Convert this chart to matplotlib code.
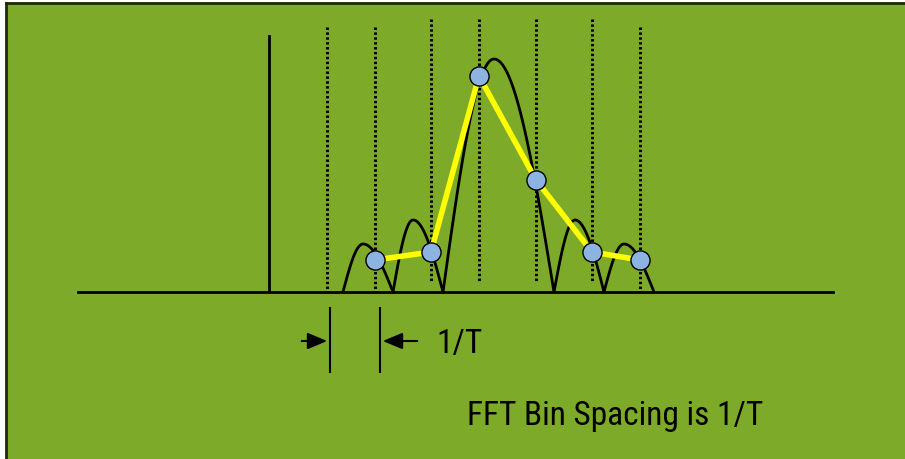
import numpy as np
import matplotlib.pyplot as plt
from matplotlib import font_manager

# frequency axis and the off-bin tone
baseline_x = [78, 833]
baseline_y = 292
tone_x = 269
tone_top = 36

# FFT bin centres and their magnitudes
bin_x = [375, 431, 479, 536, 592, 640]
bin_y = [260, 252, 76, 180, 252, 260]
grid_x = [327, 375, 431, 479, 536, 592, 640]
grid_top = [27, 27, 19, 19, 19, 19, 27]
grid_bottom = [292, 292, 283, 283, 283, 283, 292]

# sinc lobes: start, end, peak position, peak height
lobe_start = [343, 393, 443, 554, 604]
lobe_end = [393, 443, 554, 604, 654]
lobe_peak_x = [363, 413, 494, 575, 624]
lobe_peak_y = [244, 220, 59, 220, 244]

green = '#7dab29'

fig = plt.figure(figsize=(9.05, 4.59), dpi=100)
fig.patch.set_facecolor('white')
ax = fig.add_axes([0, 0, 1, 1])
ax.set_xlim(0, 905)
ax.set_ylim(459, 0)
ax.axis('off')

# panel background with dark edge on top and left
ax.add_patch(plt.Rectangle((6, 3), 905, 470, facecolor=green, edgecolor='none'))
ax.plot([6, 6], [3, 459], color='#1a2a0a', lw=2)
ax.plot([6, 905], [3, 3], color='#1a2a0a', lw=2)

# baseline and tone line
ax.plot(baseline_x, [baseline_y, baseline_y], color='black', lw=2)
ax.plot([tone_x, tone_x], [tone_top, baseline_y], color='black', lw=2)

# dotted bin markers
for gx, gt, gb in zip(grid_x, grid_top, grid_bottom):
    ax.plot([gx, gx], [gt, gb], color='black', lw=2.2, linestyle=(0, (0.8, 0.8)))

# lobes drawn as skewed sine arches through each peak
for s, e, px, py in zip(lobe_start, lobe_end, lobe_peak_x, lobe_peak_y):
    xs = np.linspace(s, e, 120)
    t = np.where(xs <= px, (xs - s) / (px - s) * 0.5, 0.5 + (xs - px) / (e - px) * 0.5)
    ys = baseline_y - (baseline_y - py) * np.sin(np.pi * t)
    ax.plot(xs, ys, color='black', lw=2, solid_capstyle='round')

# sampled spectrum
ax.plot(bin_x, bin_y, color='#ffff00', lw=4, zorder=4)
ax.scatter(bin_x, bin_y, s=190, color='#8db3e2', edgecolor='black', linewidth=1, zorder=5)

# bin spacing annotation
ax.plot([330, 330], [308, 372], color='black', lw=1.5)
ax.plot([380, 380], [308, 372], color='black', lw=1.5)
ax.annotate('', xy=(330, 341), xytext=(299, 341),
            arrowprops=dict(arrowstyle='-|>,head_length=0.6,head_width=0.25',
                            color='black', lw=1.5, mutation_scale=20))
ax.annotate('', xy=(380, 341), xytext=(420, 341),
            arrowprops=dict(arrowstyle='-|>,head_length=0.6,head_width=0.25',
                            color='black', lw=1.5, mutation_scale=20))

# pick a narrow face if one is around
names = {f.name for f in font_manager.fontManager.ttflist}
narrow = [n for n in ['Liberation Sans Narrow', 'DejaVu Sans Condensed', 'Roboto Condensed'] if n in names]
if narrow:
    fonts, size = [narrow[0], 'DejaVu Sans'], 24
else:
    fonts, size = ['Liberation Sans', 'DejaVu Sans'], 20

ax.text(436, 344, '1/T', fontsize=size, family=fonts, va='center', ha='left')
ax.text(467, 416, 'FFT Bin Spacing is 1/T', fontsize=size, family=fonts, va='center', ha='left')

fig.savefig('out.png', dpi=100, facecolor=fig.get_facecolor())
